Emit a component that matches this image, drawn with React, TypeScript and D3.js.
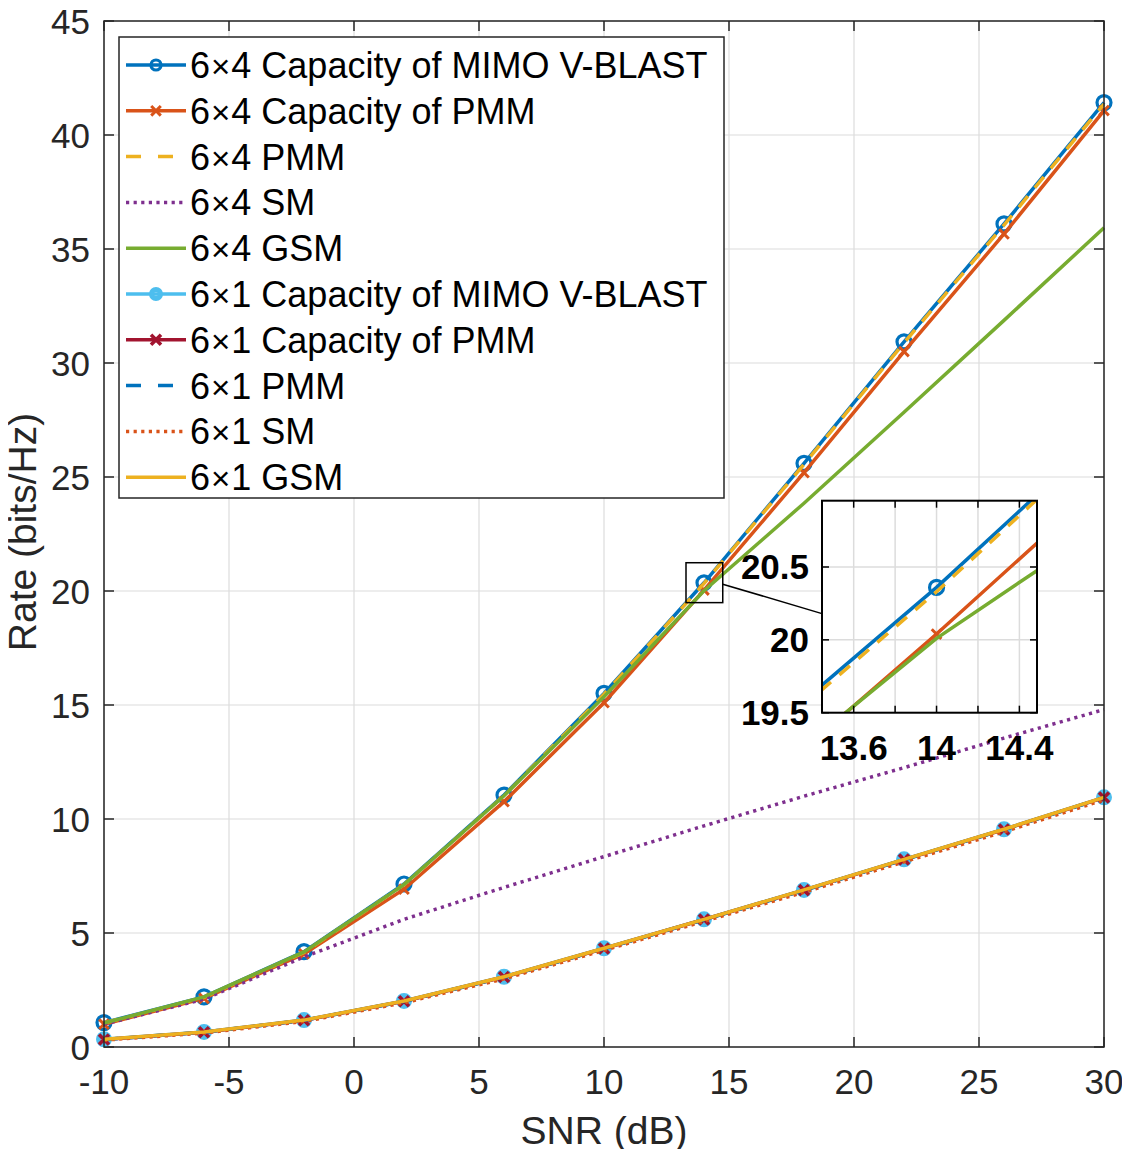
import React from "react";
import * as d3 from "d3";

const snr = [-10, -6, -2, 2, 6, 10, 14, 18, 22, 26, 30];
const vblast4 = [1.07, 2.2, 4.18, 7.15, 11.05, 15.51, 20.36, 25.6, 30.93, 36.1, 41.42];
const pmmCap4 = [1.0, 2.13, 4.08, 6.92, 10.76, 15.1, 20.04, 25.19, 30.5, 35.66, 41.07];
const pmm4 = [1.05, 2.18, 4.15, 7.12, 11.02, 15.47, 20.33, 25.56, 30.88, 36.05, 41.36];
const sm4 = [1.0, 2.1, 3.95, 5.6, 7.0, 8.35, 9.7, 11.0, 12.25, 13.55, 14.8];
const gsm4 = [1.05, 2.2, 4.17, 7.12, 11.02, 15.36, 20.01, 23.85, 27.84, 31.87, 35.93];
const vblast1 = [0.34, 0.66, 1.18, 2.02, 3.08, 4.33, 5.6, 6.89, 8.23, 9.55, 10.95];
const pmmCap1 = [0.33, 0.65, 1.17, 2.01, 3.07, 4.32, 5.59, 6.88, 8.22, 9.54, 10.94];
const pmm1 = [0.33, 0.65, 1.17, 2.0, 3.06, 4.31, 5.58, 6.87, 8.21, 9.53, 10.93];
const sm1 = [0.3, 0.61, 1.12, 1.94, 2.99, 4.24, 5.51, 6.79, 8.12, 9.44, 10.84];
const gsm1 = [0.34, 0.66, 1.18, 2.02, 3.08, 4.33, 5.6, 6.89, 8.23, 9.55, 10.95];

const legendLabels = [
  "6×4 Capacity of MIMO V-BLAST",
  "6×4 Capacity of PMM",
  "6×4 PMM",
  "6×4 SM",
  "6×4 GSM",
  "6×1 Capacity of MIMO V-BLAST",
  "6×1 Capacity of PMM",
  "6×1 PMM",
  "6×1 SM",
  "6×1 GSM",
];

const xTicks = [-10, -5, 0, 5, 10, 15, 20, 25, 30];
const yTicks = [0, 5, 10, 15, 20, 25, 30, 35, 40, 45];
const insetXTicks = [13.6, 13.8, 14, 14.2, 14.4];
const insetXLabels = [13.6, 14, 14.4];
const insetYTicks = [19.5, 20, 20.5];
const insetXDomain = [13.447, 14.485];
const insetYDomain = [19.5, 20.955];
const zoomBoxX = [13.28, 14.75];
const zoomBoxY = [19.49, 21.24];

type Series = {
  values: number[];
  color: string;
  dash?: string;
  marker?: "o" | "x";
  small?: boolean;
  label: string;
};

const C = {
  blue: "#0072BD",
  orange: "#D95319",
  yellow: "#EDB120",
  purple: "#7E2F8E",
  green: "#77AC30",
  lblue: "#4DBEEE",
  dred: "#A2142F",
};

const DASH = "14,11";
const DOT = "3.2,4.4";

const series: Series[] = [
  { values: vblast4, color: C.blue, marker: "o", label: legendLabels[0] },
  { values: pmmCap4, color: C.orange, marker: "x", label: legendLabels[1] },
  { values: pmm4, color: C.yellow, dash: DASH, label: legendLabels[2] },
  { values: sm4, color: C.purple, dash: DOT, label: legendLabels[3] },
  { values: gsm4, color: C.green, label: legendLabels[4] },
  { values: vblast1, color: C.lblue, marker: "o", small: true, label: legendLabels[5] },
  { values: pmmCap1, color: C.dred, marker: "x", small: true, label: legendLabels[6] },
  { values: pmm1, color: C.blue, dash: DASH, label: legendLabels[7] },
  { values: sm1, color: C.orange, dash: DOT, label: legendLabels[8] },
  { values: gsm1, color: C.yellow, label: legendLabels[9] },
];

const FONT = "'Liberation Sans', Arial, Helvetica, sans-serif";
const AX = "#262626";
const GRID = "#dcdcdc";
const LW = 3.5;

function Marker({ kind, x, y, color, r = 6.5, sw = 3, s = 4.5 }: { kind?: string; x: number; y: number; color: string; r?: number; sw?: number; s?: number }) {
  if (kind === "o") {
    return <circle cx={x} cy={y} r={r} fill="none" stroke={color} strokeWidth={sw} />;
  }
  if (kind === "x") {
    return (
      <path
        d={`M${x - s},${y - s}L${x + s},${y + s}M${x - s},${y + s}L${x + s},${y - s}`}
        stroke={color}
        strokeWidth={sw}
        fill="none"
      />
    );
  }
  return null;
}

function mk(s: Series, legend = false) {
  if (s.marker === "o") return s.small ? { r: legend ? 4.5 : 5.5, sw: 5 } : { r: legend ? 5 : 7, sw: 3.2 };
  return s.small ? { s: 5, sw: 3.6 } : { s: 4.8, sw: 3 };
}

export default function App() {
  const W = 1130;
  const H = 1157;
  const left = 104, right = 1104, top = 21, bottom = 1047;
  const x = d3.scaleLinear().domain([-10, 30]).range([left, right]);
  const y = d3.scaleLinear().domain([0, 45]).range([bottom, top]);

  const iL = 822, iR = 1037, iT = 500.7, iB = 712.7;
  const ix = d3.scaleLinear().domain(insetXDomain).range([iL, iR]);
  const iy = d3.scaleLinear().domain(insetYDomain).range([iB, iT]);

  const line = d3
    .line<number>()
    .x((_, i) => x(snr[i]))
    .y((d) => y(d));
  const iline = d3
    .line<number>()
    .x((_, i) => ix(snr[i]))
    .y((d) => iy(d));

  const tickLen = 10;

  // legend
  const lgL = 119, lgT = 37, lgR = 724, lgB = 498;
  const rowH = 45.8;
  const row0 = 65;

  return (
    <svg width={W} height={H} viewBox={`0 0 ${W} ${H}`} style={{ display: "block", margin: "-8px" }} fontFamily={FONT}>
      <rect x={0} y={0} width={W} height={H} fill="#fff" />
      <defs>
        <clipPath id="insetClip">
          <rect x={iL} y={iT} width={iR - iL} height={iB - iT} />
        </clipPath>
      </defs>
      {/* grid */}
      {xTicks.map((t) => (
        <line key={"gx" + t} x1={x(t)} x2={x(t)} y1={top} y2={bottom} stroke={GRID} strokeWidth={1.2} />
      ))}
      {yTicks.map((t) => (
        <line key={"gy" + t} x1={left} x2={right} y1={y(t)} y2={y(t)} stroke={GRID} strokeWidth={1.2} />
      ))}
      {/* ticks */}
      {xTicks.map((t) => (
        <g key={"tx" + t}>
          <line x1={x(t)} x2={x(t)} y1={bottom} y2={bottom - tickLen} stroke={AX} strokeWidth={1.5} />
          <line x1={x(t)} x2={x(t)} y1={top} y2={top + tickLen} stroke={AX} strokeWidth={1.5} />
          <text x={x(t)} y={1094} textAnchor="middle" fontSize={35} fill={AX}>
            {t}
          </text>
        </g>
      ))}
      {yTicks.map((t) => (
        <g key={"ty" + t}>
          <line x1={left} x2={left + tickLen} y1={y(t)} y2={y(t)} stroke={AX} strokeWidth={1.5} />
          <line x1={right} x2={right - tickLen} y1={y(t)} y2={y(t)} stroke={AX} strokeWidth={1.5} />
          <text x={90} y={y(t) + 12.5} textAnchor="end" fontSize={35} fill={AX}>
            {t}
          </text>
        </g>
      ))}
      {/* series */}
      {series.map((s, k) => (
        <g key={"s" + k}>
          <path d={line(s.values) || ""} fill="none" stroke={s.color} strokeWidth={LW} strokeDasharray={s.dash} />
          {s.marker &&
            s.values.map((v, i) => <Marker key={i} kind={s.marker} x={x(snr[i])} y={y(v)} color={s.color} {...mk(s)} />)}
        </g>
      ))}
      {/* axes box */}
      <rect x={left} y={top} width={right - left} height={bottom - top} fill="none" stroke={AX} strokeWidth={1.5} />
      {/* axis labels */}
      <text x={(left + right) / 2} y={1144} textAnchor="middle" fontSize={39} fill={AX}>
        SNR (dB)
      </text>
      <text transform={`translate(36,${532}) rotate(-90)`} textAnchor="middle" fontSize={39} fill={AX}>
        Rate (bits/Hz)
      </text>
      {/* legend */}
      <rect x={lgL} y={lgT} width={lgR - lgL} height={lgB - lgT} fill="#fff" stroke={AX} strokeWidth={1.5} />
      {series.map((s, k) => {
        const yy = row0 + k * rowH;
        return (
          <g key={"lg" + k}>
            <line x1={126} x2={186} y1={yy} y2={yy} stroke={s.color} strokeWidth={LW} strokeDasharray={s.dash === DASH ? "15,17" : s.dash} />
            {s.marker && <Marker kind={s.marker} x={156} y={yy} color={s.color} {...mk(s, true)} />}
            <text x={190} y={yy + 13} fontSize={36} fill="#000">
              {s.label.slice(0, 1)}
              <tspan fontSize={33} dx={1}>×</tspan>
              <tspan dx={1}>{s.label.slice(2)}</tspan>
            </text>
          </g>
        );
      })}
      {/* zoom box and connector */}
      <rect
        x={x(zoomBoxX[0])}
        y={y(zoomBoxY[1])}
        width={x(zoomBoxX[1]) - x(zoomBoxX[0])}
        height={y(zoomBoxY[0]) - y(zoomBoxY[1])}
        fill="none"
        stroke="#000"
        strokeWidth={1.5}
      />
      <line x1={x(zoomBoxX[1])} y1={y(20.3)} x2={iL} y2={iy(20.18)} stroke="#000" strokeWidth={1.5} />
      {/* inset */}
      <rect x={iL} y={iT} width={iR - iL} height={iB - iT} fill="#fff" />
      {insetXTicks.map((t) => (
        <line key={"igx" + t} x1={ix(t)} x2={ix(t)} y1={iT} y2={iB} stroke={GRID} strokeWidth={1.5} />
      ))}
      {insetYTicks.map((t) => (
        <line key={"igy" + t} x1={iL} x2={iR} y1={iy(t)} y2={iy(t)} stroke={GRID} strokeWidth={1.5} />
      ))}
      <g clipPath="url(#insetClip)">
        {series.map((s, k) => (
          <g key={"is" + k}>
            <path d={iline(s.values) || ""} fill="none" stroke={s.color} strokeWidth={LW} strokeDasharray={s.dash} />
            {s.marker &&
              s.values.map((v, i) => <Marker key={i} kind={s.marker} x={ix(snr[i])} y={iy(v)} color={s.color} {...mk(s)} />)}
          </g>
        ))}
      </g>
      {insetXTicks.map((t) => (
        <g key={"itx" + t}>
          <line x1={ix(t)} x2={ix(t)} y1={iB} y2={iB - 7} stroke="#000" strokeWidth={1.5} />
          <line x1={ix(t)} x2={ix(t)} y1={iT} y2={iT + 7} stroke="#000" strokeWidth={1.5} />
        </g>
      ))}
      {insetXLabels.map((t) => (
        <text key={"itl" + t} x={ix(t)} y={760} textAnchor="middle" fontSize={35} fontWeight="bold" fill="#000">
          {t}
        </text>
      ))}
      {insetYTicks.map((t) => (
        <g key={"ity" + t}>
          <line x1={iL} x2={iL + 7} y1={iy(t)} y2={iy(t)} stroke="#000" strokeWidth={1.5} />
          <line x1={iR} x2={iR - 7} y1={iy(t)} y2={iy(t)} stroke="#000" strokeWidth={1.5} />
          <text x={809} y={iy(t) + 12.5} textAnchor="end" fontSize={35} fontWeight="bold" fill="#000">
            {t}
          </text>
        </g>
      ))}
      <rect x={iL} y={iT} width={iR - iL} height={iB - iT} fill="none" stroke="#000" strokeWidth={2} />
    </svg>
  );
}
